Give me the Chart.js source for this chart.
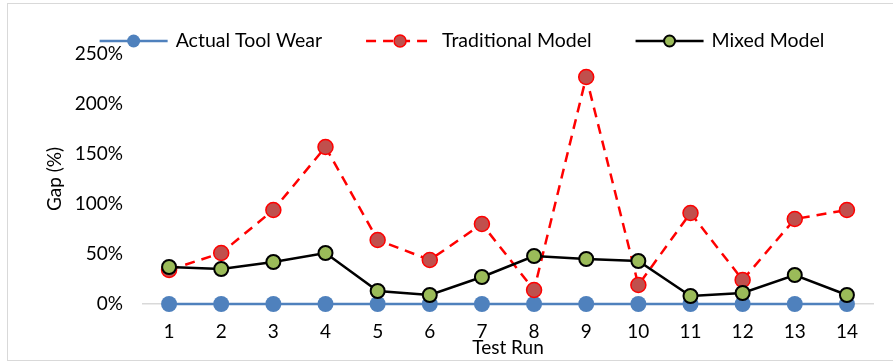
<!DOCTYPE html>
<html>
<head>
<meta charset="utf-8">
<script src="https://cdn.jsdelivr.net/npm/chart.js@4/dist/chart.umd.min.js"></script>
<style>
html,body{margin:0;padding:0;background:#fff;}
#wrap{position:relative;width:893px;height:363px;}
</style>
</head>
<body>
<div id="wrap"><canvas id="c" width="893" height="363"></canvas></div>
<script>
const categories = ['1','2','3','4','5','6','7','8','9','10','11','12','13','14'];
const seriesNames = ['Actual Tool Wear','Traditional Model','Mixed Model'];
const actualToolWear = [0,0,0,0,0,0,0,0,0,0,0,0,0,0];
const traditionalModel = [34,51,94,157,64,44,80,14,227,19,91,24,85,94];
const mixedModel = [37,35,42,51,13,9,27,48,45,43,8,11,29,9];
const yTickValues = [0,50,100,150,200,250];
const xAxisTitle = 'Test Run';
const yAxisTitle = 'Gap (%)';

const FONT = 'Lato';

const frame = {
  id: 'frame',
  beforeDraw(chart) {
    const ctx = chart.ctx;
    ctx.save();
    ctx.fillStyle = '#fff';
    ctx.fillRect(0, 0, chart.width, chart.height);
    ctx.strokeStyle = '#d9d9d9';
    ctx.lineWidth = 1;
    ctx.strokeRect(7.5, 3.5, 900, 357);
    ctx.restore();
  }
};

const customLegend = {
  id: 'customLegend',
  afterDraw(chart) {
    const ctx = chart.ctx;
    ctx.save();
    ctx.font = '19.5px ' + FONT;
    const lineW = 68, textGap = 8, itemGap = 44, y = 41, centerX = 462;
    const items = chart.data.datasets.map(ds => ({ds, w: lineW + textGap + ctx.measureText(ds.label).width}));
    const total = items.reduce((s, i) => s + i.w, 0) + itemGap * (items.length - 1);
    let x = centerX - total / 2;
    items.forEach(({ds, w}) => {
      ctx.strokeStyle = ds.borderColor;
      ctx.lineWidth = ds.borderWidth;
      ctx.setLineDash(ds.borderDash || []);
      ctx.beginPath(); ctx.moveTo(x, y); ctx.lineTo(x + lineW, y); ctx.stroke();
      ctx.setLineDash([]);
      ctx.beginPath(); ctx.arc(x + lineW / 2, y, ds.pointRadius - 1.5, 0, Math.PI * 2);
      ctx.fillStyle = ds.pointBackgroundColor; ctx.fill();
      if (ds.pointBorderWidth) { ctx.lineWidth = ds.pointBorderWidth; ctx.strokeStyle = ds.pointBorderColor; ctx.stroke(); }
      ctx.fillStyle = '#000'; ctx.textBaseline = 'middle'; ctx.textAlign = 'left';
      ctx.fillText(ds.label, x + lineW + textGap, y);
      x += w + itemGap;
    });
    ctx.restore();
  }
};

new Chart(document.getElementById('c'), {
  type: 'line',
  data: {
    labels: categories,
    datasets: [
      {
        label: seriesNames[0], data: actualToolWear, order: 3, clip: false,
        borderColor: '#4f81bd', borderWidth: 2.5,
        pointRadius: 8, pointHoverRadius: 8, pointBackgroundColor: '#4f81bd', pointBorderWidth: 0, pointBorderColor: '#4f81bd'
      },
      {
        label: seriesNames[1], data: traditionalModel, order: 2, clip: false,
        borderColor: '#ff0000', borderWidth: 2.5, borderDash: [10, 7],
        pointRadius: 7.5, pointHoverRadius: 7.5, pointBackgroundColor: '#c0504d', pointBorderWidth: 1.5, pointBorderColor: '#ff0000'
      },
      {
        label: seriesNames[2], data: mixedModel, order: 1, clip: false,
        borderColor: '#000000', borderWidth: 2.5,
        pointRadius: 7, pointHoverRadius: 7, pointBackgroundColor: '#9bbb59', pointBorderWidth: 2, pointBorderColor: '#000000'
      }
    ]
  },
  options: {
    responsive: false,
    devicePixelRatio: 1,
    animation: false,
    layout: { padding: { top: 54, right: 20, bottom: 0, left: 0 } },
    plugins: { legend: { display: false }, tooltip: { enabled: false } },
    elements: { line: { tension: 0 } },
    scales: {
      x: {
        offset: true,
        grid: { display: false, drawTicks: false, offset: true },
        border: { display: true, color: '#d9d9d9', width: 1.5 },
        ticks: { color: '#000', padding: 18, font: { family: FONT, size: 19, lineHeight: 1 } },
        title: { display: true, text: xAxisTitle, color: '#000', font: { family: FONT, size: 19, lineHeight: 1 }, padding: { top: -2, bottom: 6 } },
        afterFit(scale) { scale.height = 59; }
      },
      y: {
        min: 0, max: 250,
        grid: { display: false, drawTicks: false },
        border: { display: false },
        afterBuildTicks(scale) { scale.ticks = yTickValues.map(v => ({ value: v })); },
        ticks: { color: '#000', padding: 20, font: { family: FONT, size: 19, lineHeight: 1 }, callback: v => v + '%' },
        title: { display: true, text: yAxisTitle, color: '#000', font: { family: FONT, size: 19, lineHeight: 1 }, padding: { top: 45, bottom: 0 } },
        afterFit(scale) { scale.width = 143; }
      }
    }
  },
  plugins: [frame, customLegend]
});
</script>
</body>
</html>
